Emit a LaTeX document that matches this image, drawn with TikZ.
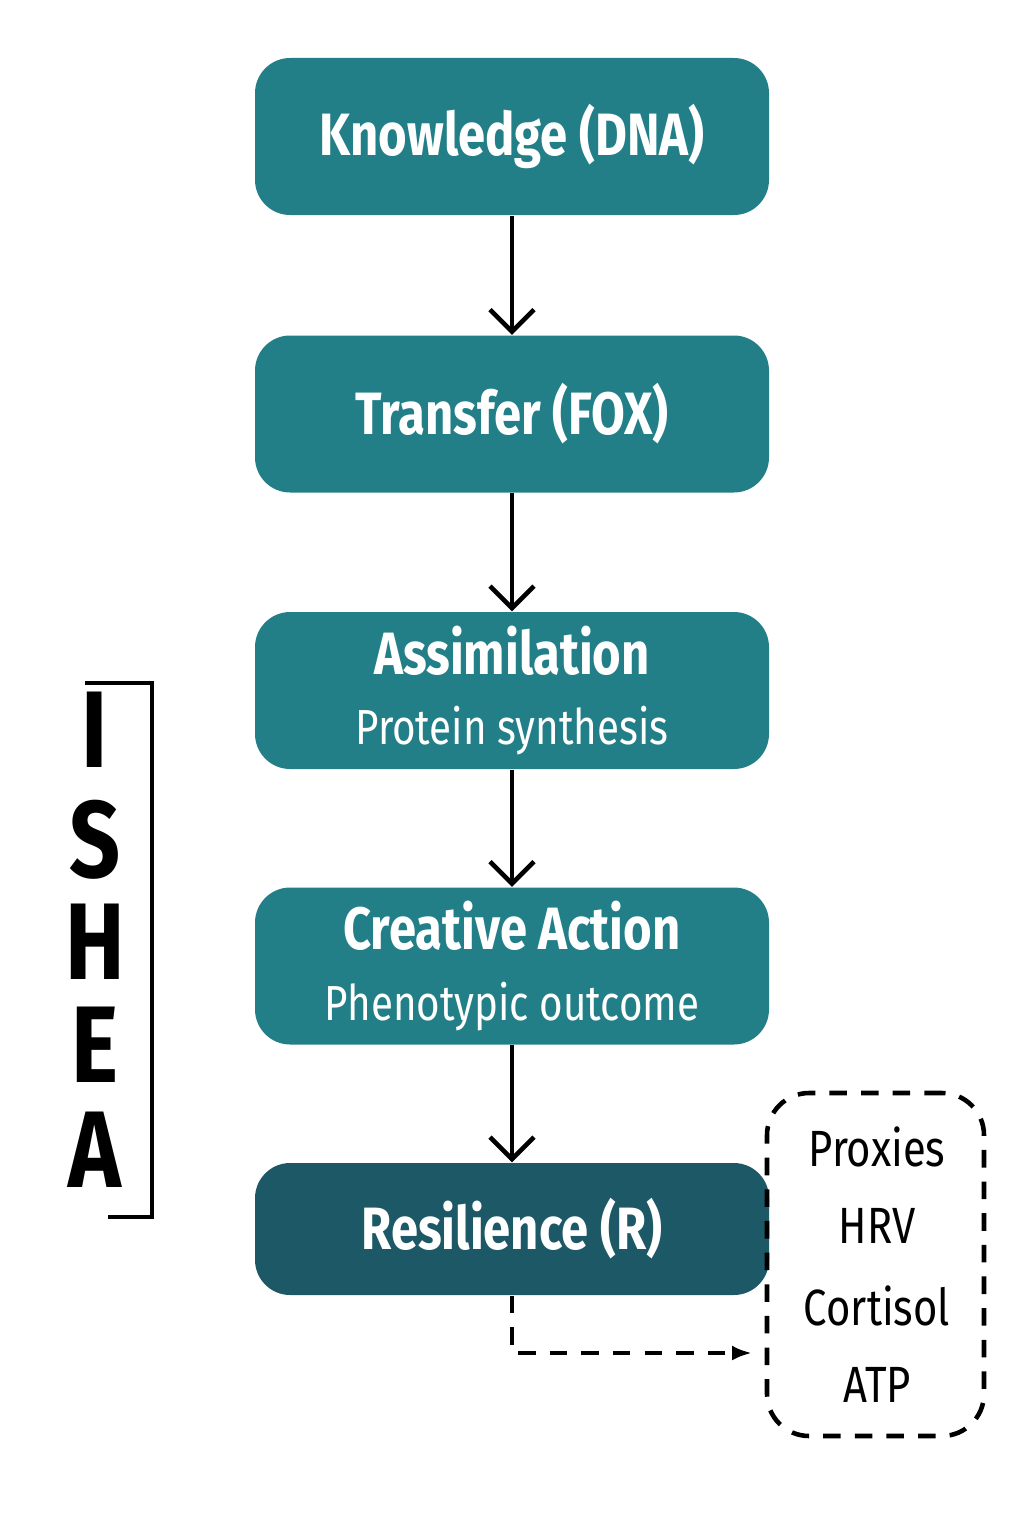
\documentclass[tikz,border=0pt]{standalone}
\usepackage{fontspec}
\setmainfont{Fira Sans}[FakeStretch=0.82]
\usetikzlibrary{arrows.meta, positioning}
\definecolor{tealbox}{HTML}{237F87}
\definecolor{darkbox}{HTML}{1C5866}
\newcommand{\subtext}{\mdseries\fontsize{14}{16}\selectfont}
\tikzset{
  stage/.style={fill=tealbox, rounded corners=10pt, minimum width=5.14cm, minimum height=1.57cm, text=white, align=center, font=\bfseries\fontsize{17}{19}\selectfont},
  flow/.style={line width=1.3pt, -{Straight Barb[length=2.2mm, width=4.4mm]}}
}
\begin{document}
\begin{tikzpicture}
  \useasboundingbox (0,0) rectangle (10.24,-15.36);

  \node [stage] (know) at (5.12,-1.365) {Knowledge (DNA)};
  \node [stage] (transfer) at (5.12,-4.14) {Transfer (FOX)};
  \node [stage] (assim) at (5.12,-6.905) {Assimilation\\[1pt]{\subtext Protein synthesis}};
  \node [stage] (creative) at (5.12,-9.66) {Creative Action\\[1pt]{\subtext Phenotypic outcome}};
  \node [stage, fill=darkbox, minimum height=1.32cm] (resil) at (5.12,-12.29) {Resilience (R)};

  \draw [flow] (know) -- (transfer);
  \draw [flow] (transfer) -- (assim);
  \draw [flow] (assim) -- (creative);
  \draw [flow] (creative) -- (resil);

  % proxies box
  \node [draw, line width=1.3pt, dash pattern=on 5pt off 4pt, rounded corners=12pt, minimum width=2.17cm, minimum height=3.43cm] (proxy) at (8.755,-12.645) {};
  \node [font=\fontsize{14.5}{17}\selectfont] (p1) at (8.77,-11.47) {Proxies};
  \node [font=\fontsize{14.5}{17}\selectfont] (p2) at (8.77,-12.26) {HRV};
  \node [font=\fontsize{14.5}{17}\selectfont] (p3) at (8.77,-13.06) {Cortisol};
  \node [font=\fontsize{14.5}{17}\selectfont] (p4) at (8.77,-13.85) {ATP};
  \coordinate (dashend) at (7.52,-13.53);
  \draw [line width=1.3pt, dash pattern=on 5pt off 4pt, -{Latex[length=2mm]}] (resil.south) |- (dashend);

  % ISHEA bracket
  \foreach \ch/\y in {I/7.3, S/8.4, H/9.42, E/10.45, A/11.5}
    \node [font=\bfseries\fontsize{31}{31}\selectfont, inner sep=0pt] (l\ch) at (0.95,-\y) {\ch};
  \draw [line width=1pt] (0.85,-6.83) -- (1.52,-6.83) -- (1.52,-12.17) -- (1.08,-12.17);
\end{tikzpicture}
\end{document}
